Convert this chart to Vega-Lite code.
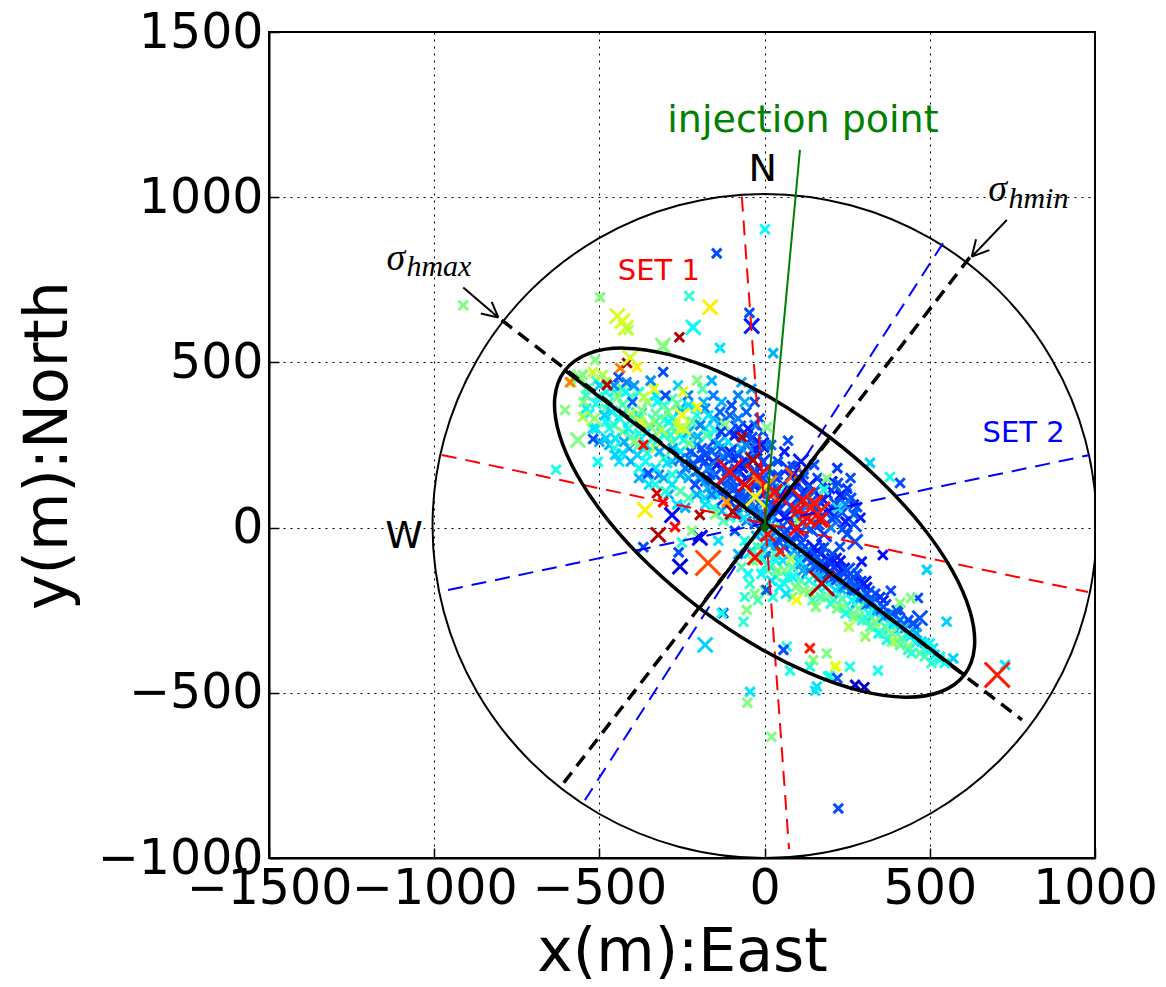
{
"$schema":"https://vega.github.io/schema/vega-lite/v6.json",
"width":826,"height":826,
"autosize":{"type":"none"},
"padding":{"left":269,"top":32,"right":71,"bottom":129},
"background":"white",
"config":{
 "view":{"stroke":"black","strokeWidth":2},
 "axis":{"labelFont":"DejaVu Sans","labelFontSize":49,"labelColor":"black","titleFont":"DejaVu Sans","titleFontSize":60,"titleFontWeight":"normal","titleColor":"black","domainColor":"black","domainWidth":2,"tickColor":"black","tickWidth":1.5,"tickSize":-10,"gridColor":"black","gridDash":[2,5],"gridWidth":1,"gridOpacity":1,"labelFlush":false,"labelOverlap":false,"labelPadding":16,"titlePadding":10,"format":"d"},
 "axisY":{"titleX":-203,"titleBaseline":"alphabetic"}
},
"datasets":{
 "pts":[
{"x":-470,"y":250,"c":0.3,"s":1},{"x":-440,"y":200,"c":0.35,"s":1},{"x":-410,"y":240,"c":0.28,"s":1},{"x":-380,"y":150,"c":0.3,"s":1},{"x":-350,"y":130,"c":0.35,"s":1},{"x":-320,"y":160,"c":0.25,"s":1},{"x":-290,"y":100,"c":0.3,"s":1},{"x":-265,"y":70,"c":0.35,"s":1},{"x":-520,"y":300,"c":0.35,"s":1},{"x":-500,"y":260,"c":0.3,"s":1},
{"x":-540,"y":400,"c":0.42,"s":1},{"x":-540,"y":360,"c":0.36,"s":1},{"x":-510,"y":445,"c":0.45,"s":1},{"x":-510,"y":375,"c":0.4,"s":1},{"x":-510,"y":300,"c":0.35,"s":1},
{"x":-480,"y":440,"c":0.5,"s":1},{"x":-480,"y":360,"c":0.45,"s":1},{"x":-480,"y":320,"c":0.38,"s":1},{"x":-480,"y":270,"c":0.33,"s":1},
{"x":-455,"y":410,"c":0.36,"s":1},{"x":-455,"y":310,"c":0.45,"s":1},{"x":-455,"y":240,"c":0.4,"s":1},
{"x":-430,"y":420,"c":0.5,"s":1},{"x":-430,"y":345,"c":0.33,"s":2},{"x":-430,"y":290,"c":0.5,"s":1},{"x":-430,"y":225,"c":0.35,"s":1},
{"x":-405,"y":395,"c":0.45,"s":1},{"x":-405,"y":325,"c":0.4,"s":2},{"x":-405,"y":275,"c":0.45,"s":1},{"x":-405,"y":200,"c":0.3,"s":1},
{"x":-380,"y":410,"c":0.4,"s":1},{"x":-380,"y":340,"c":0.35,"s":2},{"x":-380,"y":250,"c":0.45,"s":1},{"x":-380,"y":180,"c":0.38,"s":1},
{"x":-355,"y":380,"c":0.5,"s":1},{"x":-355,"y":290,"c":0.33,"s":2},{"x":-355,"y":225,"c":0.4,"s":1},{"x":-355,"y":160,"c":0.3,"s":1},
{"x":-330,"y":400,"c":0.35,"s":1},{"x":-330,"y":320,"c":0.42,"s":2},{"x":-330,"y":240,"c":0.55,"s":1},{"x":-330,"y":180,"c":0.35,"s":1},{"x":-330,"y":130,"c":0.4,"s":1},
{"x":-305,"y":370,"c":0.4,"s":1},{"x":-305,"y":280,"c":0.38,"s":2},{"x":-305,"y":210,"c":0.45,"s":1},{"x":-305,"y":150,"c":0.3,"s":1},
{"x":-280,"y":390,"c":0.45,"s":1},{"x":-280,"y":330,"c":0.35,"s":2},{"x":-280,"y":260,"c":0.5,"s":1},{"x":-280,"y":200,"c":0.3,"s":1},{"x":-280,"y":130,"c":0.35,"s":1},
{"x":-255,"y":360,"c":0.3,"s":1},{"x":-255,"y":280,"c":0.4,"s":2},{"x":-255,"y":230,"c":0.35,"s":1},{"x":-255,"y":160,"c":0.3,"s":1},{"x":-255,"y":110,"c":0.45,"s":1},
{"x":-230,"y":370,"c":0.35,"s":1},{"x":-230,"y":290,"c":0.3,"s":2},{"x":-230,"y":210,"c":0.25,"s":1},{"x":-230,"y":150,"c":0.3,"s":1},
{"x":-205,"y":340,"c":0.4,"s":1},{"x":-205,"y":250,"c":0.3,"s":2},{"x":-205,"y":170,"c":0.22,"s":1},{"x":-205,"y":100,"c":0.3,"s":1},
{"x":-180,"y":360,"c":0.25,"s":1},{"x":-180,"y":300,"c":0.35,"s":2},{"x":-180,"y":220,"c":0.2,"s":2},{"x":-180,"y":140,"c":0.22,"s":1},{"x":-180,"y":90,"c":0.35,"s":1},
{"x":-155,"y":330,"c":0.3,"s":1},{"x":-155,"y":260,"c":0.2,"s":2},{"x":-155,"y":200,"c":0.18,"s":2},{"x":-155,"y":120,"c":0.2,"s":1},{"x":-155,"y":60,"c":0.4,"s":1},
{"x":-130,"y":380,"c":0.3,"s":1},{"x":-130,"y":320,"c":0.25,"s":1},{"x":-130,"y":240,"c":0.2,"s":2},{"x":-130,"y":180,"c":0.15,"s":2},{"x":-130,"y":110,"c":0.22,"s":2},{"x":-130,"y":50,"c":0.3,"s":1},
{"x":-105,"y":340,"c":0.22,"s":1},{"x":-105,"y":290,"c":0.2,"s":2},{"x":-105,"y":230,"c":0.15,"s":2},{"x":-105,"y":150,"c":0.2,"s":2},{"x":-105,"y":80,"c":0.25,"s":2},{"x":-105,"y":30,"c":0.4,"s":1},
{"x":-80,"y":400,"c":0.25,"s":1},{"x":-80,"y":300,"c":0.2,"s":2},{"x":-80,"y":220,"c":0.18,"s":2},{"x":-80,"y":170,"c":0.2,"s":2},{"x":-80,"y":100,"c":0.15,"s":2},{"x":-80,"y":40,"c":0.3,"s":1},
{"x":-55,"y":350,"c":0.22,"s":1},{"x":-55,"y":280,"c":0.18,"s":2},{"x":-55,"y":200,"c":0.2,"s":2},{"x":-55,"y":150,"c":0.15,"s":2},{"x":-55,"y":90,"c":0.2,"s":2},{"x":-55,"y":20,"c":0.25,"s":1},
{"x":-30,"y":380,"c":0.2,"s":1},{"x":-30,"y":310,"c":0.25,"s":1},{"x":-30,"y":240,"c":0.15,"s":2},{"x":-30,"y":130,"c":0.2,"s":2},{"x":-30,"y":60,"c":0.22,"s":2},
{"x":-5,"y":290,"c":0.2,"s":1},{"x":-5,"y":200,"c":0.18,"s":2},{"x":-5,"y":150,"c":0.2,"s":2},{"x":-5,"y":100,"c":0.15,"s":2},{"x":-5,"y":40,"c":0.2,"s":2},
{"x":10,"y":-40,"c":0.3,"s":2},{"x":10,"y":-80,"c":0.25,"s":2},{"x":10,"y":-130,"c":0.45,"s":1},{"x":35,"y":-55,"c":0.2,"s":2},{"x":35,"y":-100,"c":0.4,"s":1},{"x":35,"y":-150,"c":0.45,"s":1},
{"x":60,"y":-60,"c":0.22,"s":2},{"x":60,"y":-130,"c":0.5,"s":1},{"x":60,"y":-170,"c":0.4,"s":1},{"x":85,"y":-45,"c":0.2,"s":2},{"x":85,"y":-150,"c":0.38,"s":1},{"x":85,"y":-210,"c":0.5,"s":1},
{"x":110,"y":-70,"c":0.2,"s":2},{"x":110,"y":-160,"c":0.45,"s":1},{"x":110,"y":-110,"c":0.25,"s":2},{"x":135,"y":-85,"c":0.18,"s":2},{"x":135,"y":-130,"c":0.25,"s":2},{"x":135,"y":-195,"c":0.5,"s":1},
{"x":160,"y":-115,"c":0.2,"s":2},{"x":160,"y":-180,"c":0.42,"s":1},{"x":160,"y":-70,"c":0.15,"s":2},{"x":185,"y":-120,"c":0.2,"s":2},{"x":185,"y":-160,"c":0.3,"s":2},{"x":185,"y":-210,"c":0.5,"s":1},
{"x":210,"y":-150,"c":0.22,"s":2},{"x":210,"y":-100,"c":0.15,"s":2},{"x":210,"y":-220,"c":0.45,"s":1},{"x":235,"y":-130,"c":0.15,"s":2},{"x":235,"y":-190,"c":0.3,"s":2},{"x":235,"y":-240,"c":0.5,"s":1},
{"x":260,"y":-190,"c":0.22,"s":2},{"x":260,"y":-140,"c":0.2,"s":2},{"x":260,"y":-250,"c":0.45,"s":1},{"x":285,"y":-170,"c":0.18,"s":2},{"x":285,"y":-220,"c":0.3,"s":2},{"x":285,"y":-270,"c":0.5,"s":1},
{"x":310,"y":-230,"c":0.25,"s":2},{"x":310,"y":-180,"c":0.15,"s":1},{"x":310,"y":-280,"c":0.45,"s":1},{"x":335,"y":-200,"c":0.2,"s":1},{"x":335,"y":-260,"c":0.35,"s":2},{"x":335,"y":-300,"c":0.5,"s":1},
{"x":360,"y":-220,"c":0.15,"s":1},{"x":360,"y":-270,"c":0.3,"s":2},{"x":360,"y":-320,"c":0.48,"s":1},{"x":385,"y":-260,"c":0.2,"s":1},{"x":385,"y":-300,"c":0.4,"s":2},{"x":385,"y":-345,"c":0.5,"s":1},
{"x":410,"y":-300,"c":0.3,"s":2},{"x":410,"y":-250,"c":0.2,"s":1},{"x":410,"y":-355,"c":0.45,"s":1},{"x":435,"y":-320,"c":0.35,"s":2},{"x":435,"y":-280,"c":0.2,"s":1},{"x":435,"y":-370,"c":0.42,"s":1},
{"x":460,"y":-345,"c":0.38,"s":1},{"x":460,"y":-300,"c":0.22,"s":1},{"x":485,"y":-350,"c":0.33,"s":1},{"x":485,"y":-390,"c":0.45,"s":1},{"x":510,"y":-365,"c":0.35,"s":1},
{"x":-60,"y":-40,"c":0.4,"s":1},{"x":-40,"y":-70,"c":0.35,"s":2},{"x":-70,"y":-120,"c":0.45,"s":1},{"x":-50,"y":-140,"c":0.38,"s":1},{"x":-15,"y":-90,"c":0.42,"s":2},{"x":-80,"y":-80,"c":0.3,"s":1},{"x":-30,"y":-200,"c":0.5,"s":1},{"x":-60,"y":-210,"c":0.42,"s":1},
{"x":-585,"y":440,"c":0.55,"s":1},{"x":-560,"y":455,"c":0.5,"s":2},{"x":-540,"y":420,"c":0.45,"s":1},{"x":-520,"y":470,"c":0.58,"s":1},{"x":-505,"y":395,"c":0.4,"s":1},{"x":-548,"y":380,"c":0.5,"s":1},{"x":-530,"y":345,"c":0.38,"s":1},{"x":-500,"y":430,"c":0.33,"s":1},{"x":-490,"y":462,"c":0.55,"s":1},{"x":-515,"y":330,"c":0.52,"s":2},
{"x":-480,"y":410,"c":0.4,"s":1},{"x":-470,"y":380,"c":0.42,"s":1},{"x":-462,"y":350,"c":0.35,"s":1},{"x":-455,"y":430,"c":0.27,"s":1},{"x":-445,"y":395,"c":0.5,"s":1},{"x":-438,"y":330,"c":0.4,"s":2},{"x":-430,"y":372,"c":0.45,"s":1},{"x":-420,"y":410,"c":0.38,"s":1},{"x":-412,"y":300,"c":0.36,"s":1},{"x":-405,"y":345,"c":0.55,"s":1},
{"x":-470,"y":300,"c":0.4,"s":1},{"x":-452,"y":270,"c":0.35,"s":1},{"x":-425,"y":260,"c":0.3,"s":1},{"x":-400,"y":380,"c":0.22,"s":1},{"x":-395,"y":430,"c":0.28,"s":1},{"x":-485,"y":340,"c":0.33,"s":1},{"x":-442,"y":455,"c":0.2,"s":1},{"x":-418,"y":440,"c":0.25,"s":1},
{"x":-390,"y":320,"c":0.45,"s":2},{"x":-380,"y":285,"c":0.4,"s":1},{"x":-372,"y":355,"c":0.5,"s":1},{"x":-365,"y":395,"c":0.55,"s":1},{"x":-358,"y":250,"c":0.35,"s":1},{"x":-350,"y":310,"c":0.52,"s":2},{"x":-342,"y":270,"c":0.42,"s":1},{"x":-335,"y":420,"c":0.6,"s":1},{"x":-330,"y":345,"c":0.47,"s":1},{"x":-325,"y":380,"c":0.38,"s":1},
{"x":-318,"y":230,"c":0.3,"s":1},{"x":-312,"y":295,"c":0.55,"s":2},{"x":-305,"y":325,"c":0.45,"s":1},{"x":-300,"y":400,"c":0.2,"s":1},{"x":-385,"y":220,"c":0.33,"s":1},{"x":-360,"y":200,"c":0.38,"s":1},{"x":-345,"y":445,"c":0.27,"s":1},{"x":-395,"y":260,"c":0.5,"s":1},{"x":-375,"y":320,"c":0.58,"s":1},{"x":-322,"y":265,"c":0.4,"s":1},
{"x":-292,"y":350,"c":0.5,"s":2},{"x":-285,"y":280,"c":0.42,"s":1},{"x":-278,"y":240,"c":0.3,"s":1},{"x":-270,"y":310,"c":0.55,"s":1},{"x":-265,"y":375,"c":0.47,"s":1},{"x":-258,"y":205,"c":0.25,"s":1},{"x":-250,"y":340,"c":0.6,"s":2},{"x":-245,"y":265,"c":0.38,"s":1},{"x":-238,"y":295,"c":0.5,"s":1},{"x":-232,"y":400,"c":0.25,"s":1},
{"x":-225,"y":230,"c":0.22,"s":1},{"x":-220,"y":320,"c":0.45,"s":1},{"x":-214,"y":190,"c":0.2,"s":1},{"x":-208,"y":360,"c":0.4,"s":1},{"x":-202,"y":275,"c":0.3,"s":1},{"x":-295,"y":195,"c":0.35,"s":1},{"x":-280,"y":160,"c":0.4,"s":1},{"x":-262,"y":430,"c":0.33,"s":1},{"x":-240,"y":180,"c":0.25,"s":1},{"x":-228,"y":255,"c":0.48,"s":1},{"x":-255,"y":300,"c":0.58,"s":1},{"x":-290,"y":320,"c":0.38,"s":1},
{"x":-195,"y":310,"c":0.25,"s":1},{"x":-190,"y":240,"c":0.2,"s":1},{"x":-185,"y":380,"c":0.3,"s":1},{"x":-180,"y":200,"c":0.18,"s":1},{"x":-175,"y":280,"c":0.45,"s":1},{"x":-170,"y":340,"c":0.35,"s":1},{"x":-165,"y":160,"c":0.2,"s":1},{"x":-160,"y":230,"c":0.22,"s":1},{"x":-155,"y":400,"c":0.25,"s":1},{"x":-150,"y":295,"c":0.4,"s":1},
{"x":-145,"y":190,"c":0.15,"s":1},{"x":-140,"y":255,"c":0.3,"s":1},{"x":-135,"y":350,"c":0.22,"s":1},{"x":-130,"y":140,"c":0.2,"s":1},{"x":-125,"y":215,"c":0.25,"s":1},{"x":-120,"y":310,"c":0.5,"s":1},{"x":-115,"y":170,"c":0.2,"s":1},{"x":-110,"y":260,"c":0.35,"s":1},{"x":-105,"y":120,"c":0.22,"s":1},{"x":-100,"y":370,"c":0.2,"s":1},
{"x":-198,"y":150,"c":0.28,"s":1},{"x":-172,"y":120,"c":0.3,"s":1},{"x":-148,"y":100,"c":0.35,"s":1},{"x":-188,"y":420,"c":0.45,"s":1},{"x":-160,"y":445,"c":0.3,"s":1},{"x":-132,"y":290,"c":0.18,"s":1},
{"x":-95,"y":210,"c":0.2,"s":1},{"x":-90,"y":280,"c":0.15,"s":1},{"x":-85,"y":150,"c":0.22,"s":1},{"x":-80,"y":330,"c":0.25,"s":1},{"x":-75,"y":95,"c":0.2,"s":1},{"x":-70,"y":240,"c":0.3,"s":1},{"x":-65,"y":180,"c":0.18,"s":1},{"x":-60,"y":380,"c":0.3,"s":1},{"x":-55,"y":120,"c":0.22,"s":1},{"x":-50,"y":300,"c":0.15,"s":1},
{"x":-45,"y":60,"c":0.25,"s":1},{"x":-40,"y":210,"c":0.2,"s":1},{"x":-35,"y":150,"c":0.45,"s":1},{"x":-30,"y":90,"c":0.2,"s":1},{"x":-25,"y":260,"c":0.22,"s":1},{"x":-20,"y":40,"c":0.25,"s":1},{"x":-15,"y":180,"c":0.15,"s":1},{"x":-10,"y":120,"c":0.2,"s":1},{"x":-5,"y":70,"c":0.3,"s":1},{"x":-88,"y":60,"c":0.2,"s":1},
{"x":-62,"y":30,"c":0.35,"s":1},{"x":-40,"y":420,"c":0.28,"s":1},{"x":-70,"y":440,"c":0.3,"s":1},{"x":-15,"y":330,"c":0.2,"s":1},{"x":5,"y":250,"c":0.25,"s":1},
{"x":-150,"y":160,"c":0.2,"s":2},{"x":-120,"y":90,"c":0.18,"s":2},{"x":-90,"y":120,"c":0.2,"s":2},{"x":-60,"y":70,"c":0.22,"s":2},{"x":-30,"y":170,"c":0.2,"s":2},{"x":-110,"y":220,"c":0.2,"s":2},{"x":-75,"y":190,"c":0.15,"s":2},{"x":-45,"y":110,"c":0.2,"s":2},{"x":-170,"y":180,"c":0.25,"s":2},{"x":-20,"y":220,"c":0.2,"s":2},{"x":-55,"y":250,"c":0.25,"s":2},{"x":-200,"y":210,"c":0.2,"s":2},
{"x":-352,"y":165,"c":0.2,"s":1},{"x":-326,"y":104,"c":0.92,"s":1},{"x":-307,"y":77,"c":0.87,"s":1},{"x":-322,"y":-22,"c":0.95,"s":2},{"x":-280,"y":38,"c":0.12,"s":2},{"x":-271,"y":2,"c":0.87,"s":1},{"x":-362,"y":53,"c":0.64,"s":2},{"x":-196,"y":38,"c":0.95,"s":1},{"x":-196,"y":-31,"c":0.12,"s":2},{"x":-367,"y":-59,"c":0.2,"s":1},
{"x":-250,"y":-45,"c":0.4,"s":1},{"x":-201,"y":-28,"c":0.12,"s":1},{"x":-256,"y":-118,"c":0.08,"s":2},{"x":-631,"y":175,"c":0.4,"s":1},{"x":-505,"y":199,"c":0.38,"s":1},{"x":-452,"y":220,"c":0.33,"s":1},{"x":-367,"y":250,"c":0.87,"s":1},{"x":-565,"y":265,"c":0.5,"s":2},{"x":-519,"y":268,"c":0.2,"s":1},{"x":-604,"y":356,"c":0.5,"s":1},
{"x":-550,"y":335,"c":0.55,"s":1},{"x":-247,"y":303,"c":0.58,"s":2},{"x":-69,"y":274,"c":0.95,"s":1},{"x":-37,"y":274,"c":0.2,"s":1},{"x":71,"y":263,"c":0.2,"s":1},{"x":7,"y":304,"c":0.5,"s":1},{"x":-230,"y":90,"c":0.45,"s":1},{"x":-180,"y":70,"c":0.35,"s":1},{"x":-150,"y":40,"c":0.5,"s":1},{"x":-240,"y":60,"c":0.3,"s":1},
{"x":-300,"y":110,"c":0.4,"s":1},{"x":-210,"y":130,"c":0.2,"s":1},{"x":-160,"y":100,"c":0.25,"s":1},{"x":-125,"y":20,"c":0.45,"s":1},{"x":-90,"y":-10,"c":0.2,"s":1},{"x":-140,"y":-40,"c":0.35,"s":1},{"x":-220,"y":-10,"c":0.5,"s":1},{"x":-260,"y":-75,"c":0.2,"s":1},
{"x":5,"y":-20,"c":0.35,"s":1},{"x":15,"y":-50,"c":0.3,"s":2},{"x":30,"y":-80,"c":0.45,"s":1},{"x":10,"y":-110,"c":0.4,"s":2},{"x":40,"y":-130,"c":0.5,"s":1},{"x":20,"y":-160,"c":0.35,"s":1},{"x":-20,"y":-60,"c":0.45,"s":1},{"x":-35,"y":-100,"c":0.5,"s":1},{"x":-10,"y":-140,"c":0.38,"s":1},{"x":-45,"y":-170,"c":0.42,"s":1},
{"x":50,"y":-30,"c":0.2,"s":2},{"x":35,"y":-10,"c":0.25,"s":1},{"x":-25,"y":-25,"c":0.3,"s":1},{"x":0,"y":-190,"c":0.5,"s":1},{"x":-20,"y":-220,"c":0.45,"s":1},{"x":25,"y":-210,"c":0.4,"s":1},{"x":45,"y":-180,"c":0.38,"s":1},
{"x":60,"y":-15,"c":0.2,"s":2},{"x":75,"y":-40,"c":0.22,"s":2},{"x":90,"y":-70,"c":0.3,"s":2},{"x":55,"y":-100,"c":0.35,"s":1},{"x":85,"y":-120,"c":0.45,"s":1},{"x":70,"y":-150,"c":0.4,"s":1},{"x":100,"y":-20,"c":0.18,"s":2},{"x":95,"y":-180,"c":0.5,"s":1},{"x":65,"y":-200,"c":0.35,"s":1},{"x":80,"y":-95,"c":0.55,"s":1},
{"x":110,"y":-45,"c":0.2,"s":2},{"x":125,"y":-75,"c":0.25,"s":2},{"x":140,"y":-105,"c":0.22,"s":2},{"x":115,"y":-130,"c":0.3,"s":1},{"x":135,"y":-160,"c":0.4,"s":1},{"x":120,"y":-190,"c":0.5,"s":1},{"x":150,"y":-60,"c":0.15,"s":2},{"x":145,"y":-220,"c":0.45,"s":1},{"x":105,"y":-100,"c":0.35,"s":1},
{"x":160,"y":-90,"c":0.2,"s":2},{"x":175,"y":-115,"c":0.22,"s":2},{"x":190,"y":-140,"c":0.2,"s":2},{"x":165,"y":-150,"c":0.3,"s":1},{"x":185,"y":-180,"c":0.38,"s":1},{"x":170,"y":-210,"c":0.45,"s":1},{"x":195,"y":-100,"c":0.15,"s":2},{"x":155,"y":-240,"c":0.5,"s":1},{"x":200,"y":-230,"c":0.42,"s":1},{"x":180,"y":-60,"c":0.2,"s":1},
{"x":210,"y":-120,"c":0.18,"s":2},{"x":225,"y":-150,"c":0.2,"s":2},{"x":240,"y":-175,"c":0.25,"s":2},{"x":215,"y":-190,"c":0.35,"s":1},{"x":235,"y":-215,"c":0.45,"s":1},{"x":220,"y":-245,"c":0.5,"s":1},{"x":250,"y":-130,"c":0.2,"s":2},{"x":245,"y":-260,"c":0.4,"s":1},{"x":205,"y":-80,"c":0.2,"s":1},{"x":230,"y":-100,"c":0.15,"s":1},
{"x":260,"y":-160,"c":0.2,"s":2},{"x":275,"y":-185,"c":0.22,"s":2},{"x":290,"y":-210,"c":0.3,"s":2},{"x":265,"y":-220,"c":0.38,"s":1},{"x":285,"y":-245,"c":0.48,"s":1},{"x":270,"y":-270,"c":0.5,"s":1},{"x":300,"y":-170,"c":0.15,"s":2},{"x":295,"y":-280,"c":0.42,"s":1},{"x":280,"y":-140,"c":0.2,"s":1},{"x":255,"y":-300,"c":0.55,"s":1},
{"x":310,"y":-200,"c":0.2,"s":2},{"x":325,"y":-225,"c":0.22,"s":2},{"x":340,"y":-250,"c":0.3,"s":1},{"x":315,"y":-260,"c":0.4,"s":1},{"x":335,"y":-285,"c":0.5,"s":1},{"x":320,"y":-300,"c":0.45,"s":1},{"x":350,"y":-210,"c":0.18,"s":1},{"x":345,"y":-320,"c":0.38,"s":1},{"x":305,"y":-330,"c":0.52,"s":1},
{"x":360,"y":-240,"c":0.2,"s":2},{"x":375,"y":-265,"c":0.25,"s":1},{"x":390,"y":-290,"c":0.35,"s":1},{"x":365,"y":-300,"c":0.45,"s":1},{"x":385,"y":-320,"c":0.5,"s":1},{"x":400,"y":-250,"c":0.2,"s":1},{"x":370,"y":-340,"c":0.4,"s":1},{"x":395,"y":-345,"c":0.55,"s":1},
{"x":410,"y":-280,"c":0.22,"s":1},{"x":425,"y":-305,"c":0.3,"s":1},{"x":440,"y":-330,"c":0.38,"s":1},{"x":415,"y":-335,"c":0.45,"s":1},{"x":435,"y":-360,"c":0.5,"s":1},{"x":450,"y":-290,"c":0.2,"s":1},{"x":445,"y":-380,"c":0.42,"s":1},
{"x":460,"y":-320,"c":0.3,"s":1},{"x":475,"y":-345,"c":0.35,"s":1},{"x":490,"y":-370,"c":0.4,"s":1},{"x":470,"y":-380,"c":0.45,"s":1},{"x":500,"y":-350,"c":0.38,"s":1},{"x":515,"y":-385,"c":0.35,"s":1},{"x":530,"y":-400,"c":0.4,"s":1},{"x":545,"y":-410,"c":0.38,"s":1},{"x":505,"y":-410,"c":0.42,"s":1},
{"x":270,"y":10,"c":0.2,"s":2},{"x":290,"y":30,"c":0.15,"s":1},{"x":260,"y":150,"c":0.2,"s":1},{"x":220,"y":180,"c":0.18,"s":1},{"x":150,"y":190,"c":0.2,"s":1},{"x":110,"y":200,"c":0.15,"s":2},{"x":70,"y":180,"c":0.18,"s":2},{"x":10,"y":180,"c":0.2,"s":2},{"x":-10,"y":250,"c":0.15,"s":2},
{"x":35,"y":150,"c":0.18,"s":2},{"x":110,"y":145,"c":0.2,"s":2},{"x":190,"y":125,"c":0.15,"s":2},{"x":240,"y":95,"c":0.2,"s":2},{"x":270,"y":70,"c":0.15,"s":1},{"x":210,"y":35,"c":0.2,"s":2},{"x":250,"y":-20,"c":0.2,"s":1},{"x":180,"y":-20,"c":0.18,"s":2},{"x":140,"y":-5,"c":0.2,"s":2},
{"x":40,"y":160,"c":0.2,"s":1},{"x":78,"y":155,"c":0.15,"s":1},{"x":118,"y":162,"c":0.22,"s":1},{"x":160,"y":150,"c":0.2,"s":1},{"x":205,"y":140,"c":0.12,"s":1},
{"x":25,"y":135,"c":0.22,"s":2},{"x":55,"y":130,"c":0.18,"s":2},{"x":95,"y":138,"c":0.2,"s":2},{"x":135,"y":128,"c":0.15,"s":2},{"x":175,"y":133,"c":0.2,"s":1},{"x":215,"y":125,"c":0.22,"s":1},{"x":250,"y":118,"c":0.18,"s":1},
{"x":20,"y":110,"c":0.25,"s":2},{"x":48,"y":105,"c":0.2,"s":2},{"x":85,"y":112,"c":0.15,"s":2},{"x":120,"y":100,"c":0.2,"s":2},{"x":150,"y":108,"c":0.22,"s":2},{"x":190,"y":102,"c":0.18,"s":1},{"x":228,"y":98,"c":0.15,"s":1},{"x":262,"y":90,"c":0.2,"s":1},
{"x":30,"y":85,"c":0.2,"s":2},{"x":65,"y":80,"c":0.22,"s":2},{"x":100,"y":88,"c":0.18,"s":2},{"x":140,"y":78,"c":0.2,"s":2},{"x":178,"y":84,"c":0.15,"s":2},{"x":212,"y":75,"c":0.2,"s":1},{"x":245,"y":70,"c":0.25,"s":1},{"x":280,"y":62,"c":0.2,"s":1},
{"x":15,"y":60,"c":0.22,"s":2},{"x":45,"y":55,"c":0.18,"s":2},{"x":80,"y":62,"c":0.2,"s":2},{"x":115,"y":52,"c":0.25,"s":2},{"x":155,"y":58,"c":0.2,"s":2},{"x":195,"y":50,"c":0.15,"s":2},{"x":235,"y":45,"c":0.2,"s":1},{"x":270,"y":40,"c":0.22,"s":1},
{"x":25,"y":35,"c":0.2,"s":2},{"x":60,"y":30,"c":0.15,"s":2},{"x":95,"y":38,"c":0.22,"s":2},{"x":130,"y":28,"c":0.2,"s":2},{"x":170,"y":32,"c":0.18,"s":2},{"x":205,"y":25,"c":0.2,"s":1},{"x":245,"y":18,"c":0.15,"s":1},
{"x":20,"y":10,"c":0.25,"s":1},{"x":55,"y":5,"c":0.2,"s":2},{"x":90,"y":12,"c":0.18,"s":2},{"x":125,"y":3,"c":0.22,"s":2},{"x":165,"y":8,"c":0.2,"s":1},{"x":200,"y":0,"c":0.25,"s":1},{"x":235,"y":-5,"c":0.2,"s":1},
{"x":60,"y":120,"c":0.45,"s":1},{"x":180,"y":115,"c":0.4,"s":1},{"x":100,"y":20,"c":0.5,"s":1},{"x":220,"y":60,"c":0.35,"s":1},{"x":40,"y":200,"c":0.2,"s":1},{"x":60,"y":230,"c":0.15,"s":1},{"x":20,"y":250,"c":0.22,"s":1},{"x":85,"y":185,"c":0.2,"s":1},
{"x":-30,"y":10,"c":0.2,"s":1},{"x":30,"y":0,"c":0.45,"s":1},{"x":-10,"y":30,"c":0.25,"s":1},{"x":15,"y":40,"c":0.3,"s":1},
{"x":379,"y":153,"c":0.4,"s":1},{"x":410,"y":135,"c":0.2,"s":1},{"x":319,"y":196,"c":0.33,"s":1},{"x":188,"y":149,"c":0.5,"s":1},{"x":222,"y":135,"c":0.2,"s":1},{"x":228,"y":-58,"c":0.2,"s":1},{"x":274,"y":-43,"c":0.2,"s":2},{"x":294,"y":-103,"c":0.15,"s":1},{"x":358,"y":-83,"c":0.12,"s":1},{"x":491,"y":-128,"c":0.33,"s":1},
{"x":464,"y":-213,"c":0.2,"s":1},{"x":382,"y":-191,"c":0.2,"s":1},{"x":443,"y":-213,"c":0.5,"s":1},{"x":410,"y":-228,"c":0.5,"s":1},{"x":470,"y":-274,"c":0.2,"s":2},{"x":551,"y":-285,"c":0.33,"s":1},{"x":343,"y":-433,"c":0.4,"s":1},{"x":274,"y":-476,"c":0.08,"s":1},{"x":302,"y":-483,"c":0.08,"s":1},{"x":531,"y":-391,"c":0.4,"s":1},
{"x":571,"y":-396,"c":0.33,"s":1},{"x":188,"y":-381,"c":0.5,"s":1},{"x":213,"y":-421,"c":0.6,"s":1},{"x":137,"y":-421,"c":0.4,"s":1},{"x":192,"y":-451,"c":0.4,"s":1},{"x":137,"y":-365,"c":0.85,"s":1},{"x":158,"y":-481,"c":0.35,"s":1},{"x":67,"y":-360,"c":0.4,"s":1},{"x":-44,"y":-497,"c":0.35,"s":1},{"x":6,"y":-189,"c":0.2,"s":1},
{"x":-54,"y":-249,"c":0.5,"s":1},{"x":-64,"y":-285,"c":0.42,"s":1},{"x":-125,"y":-259,"c":0.2,"s":1},{"x":-180,"y":-355,"c":0.33,"s":2},{"x":97,"y":-219,"c":0.62,"s":1},{"x":-130,"y":-259,"c":0.4,"s":1},{"x":-52,"y":-530,"c":0.5,"s":1},{"x":21,"y":-633,"c":0.5,"s":1},{"x":223,"y":-850,"c":0.2,"s":1},{"x":147,"y":-401,"c":0.5,"s":1},
{"x":216,"y":-419,"c":0.6,"s":1},{"x":198,"y":-449,"c":0.4,"s":1},{"x":153,"y":-494,"c":0.35,"s":1},{"x":220,"y":-456,"c":0.2,"s":1},{"x":258,"y":-421,"c":0.4,"s":1},{"x":57,"y":-370,"c":0.2,"s":1},{"x":728,"y":-416,"c":0.35,"s":1},{"x":77,"y":-433,"c":0.4,"s":1},
{"x":1,"y":903,"c":0.37,"s":1},{"x":-145,"y":830,"c":0.2,"s":1},{"x":-228,"y":701,"c":0.42,"s":1},{"x":-165,"y":667,"c":0.64,"s":2},{"x":-46,"y":650,"c":0.2,"s":1},{"x":-39,"y":610,"c":0.15,"s":2},{"x":-216,"y":606,"c":0.4,"s":2},{"x":-258,"y":576,"c":0.95,"s":1},{"x":-308,"y":551,"c":0.5,"s":2},{"x":-446,"y":640,"c":0.58,"s":2},
{"x":-430,"y":625,"c":0.6,"s":2},{"x":-420,"y":605,"c":0.58,"s":2},{"x":-412,"y":598,"c":0.56,"s":1},{"x":-498,"y":697,"c":0.5,"s":1},{"x":-912,"y":673,"c":0.5,"s":1},{"x":-135,"y":544,"c":0.35,"s":1},{"x":26,"y":528,"c":0.3,"s":1},
{"x":-437,"y":483,"c":0.75,"s":1},{"x":-386,"y":486,"c":0.64,"s":1},{"x":-416,"y":498,"c":0.95,"s":1},{"x":-407,"y":514,"c":0.58,"s":2},{"x":-513,"y":507,"c":0.5,"s":1},{"x":-550,"y":462,"c":0.5,"s":1},{"x":-589,"y":440,"c":0.75,"s":1},{"x":-477,"y":432,"c":0.95,"s":1},{"x":-307,"y":546,"c":0.5,"s":1},{"x":-217,"y":607,"c":0.37,"s":1},
{"x":-307,"y":471,"c":0.2,"s":1},{"x":-204,"y":446,"c":0.5,"s":1},{"x":-247,"y":411,"c":0.58,"s":1},{"x":-204,"y":365,"c":0.62,"s":1},
{"x":-105,"y":169,"c":0.87,"s":3},{"x":-35,"y":204,"c":0.95,"s":2},{"x":-20,"y":153,"c":0.87,"s":3},{"x":0,"y":120,"c":0.75,"s":3},{"x":31,"y":108,"c":0.87,"s":2},{"x":86,"y":159,"c":0.8,"s":2},{"x":-171,"y":-107,"c":0.8,"s":3},{"x":-29,"y":-90,"c":0.87,"s":2},{"x":97,"y":-2,"c":0.87,"s":2},{"x":-96,"y":48,"c":0.95,"s":2},
{"x":-29,"y":93,"c":0.62,"s":3},{"x":47,"y":93,"c":0.87,"s":2},{"x":-115,"y":78,"c":0.72,"s":1},{"x":173,"y":-169,"c":0.95,"s":3},{"x":704,"y":-446,"c":0.85,"s":3},{"x":116,"y":83,"c":0.87,"s":3},{"x":140,"y":60,"c":0.87,"s":3},{"x":160,"y":40,"c":0.85,"s":3},{"x":130,"y":30,"c":0.87,"s":2},{"x":150,"y":75,"c":0.85,"s":2},
{"x":168,"y":23,"c":0.87,"s":2},{"x":100,"y":50,"c":0.87,"s":2},{"x":47,"y":-73,"c":0.85,"s":1},{"x":10,"y":-20,"c":0.87,"s":2},{"x":-60,"y":130,"c":0.9,"s":2}
 ],
 "circle":[
{"i":0,"x":1005,"y":5},{"i":1,"x":970.7,"y":265.1},{"i":2,"x":870.3,"y":507.5},{"i":3,"x":710.6,"y":715.6},{"i":4,"x":502.5,"y":875.3},{"i":5,"x":260.1,"y":975.7},{"i":6,"x":0,"y":1010},{"i":7,"x":-260.1,"y":975.7},{"i":8,"x":-502.5,"y":875.3},{"i":9,"x":-710.6,"y":715.6},{"i":10,"x":-870.3,"y":507.5},{"i":11,"x":-970.7,"y":265.1},
{"i":12,"x":-1005,"y":5},{"i":13,"x":-970.7,"y":-255.1},{"i":14,"x":-870.3,"y":-497.5},{"i":15,"x":-710.6,"y":-705.6},{"i":16,"x":-502.5,"y":-865.3},{"i":17,"x":-260.1,"y":-965.7},{"i":18,"x":0,"y":-1000},{"i":19,"x":260.1,"y":-965.7},{"i":20,"x":502.5,"y":-865.3},{"i":21,"x":710.6,"y":-705.6},{"i":22,"x":870.3,"y":-497.5},{"i":23,"x":970.7,"y":-255.1}
 ],
 "ellipse":[
{"i":0,"x":604.6,"y":-445.6},{"i":1,"x":635.0,"y":-363.0},{"i":2,"x":622.1,"y":-254.6},{"i":3,"x":566.8,"y":-127.9},{"i":4,"x":472.9,"y":8.6},{"i":5,"x":346.8,"y":145.5},{"i":6,"x":197.0,"y":273.5},{"i":7,"x":33.8,"y":383.9},{"i":8,"x":-131.7,"y":469.2},{"i":9,"x":-288.2,"y":523.5},{"i":10,"x":-425.1,"y":543.2},{"i":11,"x":-533.0,"y":526.8},
{"i":12,"x":-604.6,"y":475.6},{"i":13,"x":-635.0,"y":393.0},{"i":14,"x":-622.1,"y":284.6},{"i":15,"x":-566.8,"y":157.9},{"i":16,"x":-472.9,"y":21.4},{"i":17,"x":-346.8,"y":-115.5},{"i":18,"x":-197.0,"y":-243.5},{"i":19,"x":-33.8,"y":-353.9},{"i":20,"x":131.7,"y":-439.2},{"i":21,"x":288.2,"y":-493.5},{"i":22,"x":425.1,"y":-513.2},{"i":23,"x":533.0,"y":-496.8}
 ]
},
"encoding":{
 "x":{"field":"x","type":"quantitative","scale":{"domain":[-1500,1000],"nice":false,"zero":false},"axis":{"values":[-1500,-1000,-500,0,500,1000],"title":"x(m):East","grid":true}},
 "y":{"field":"y","type":"quantitative","scale":{"domain":[-1000,1500],"nice":false,"zero":false},"axis":{"values":[-1000,-500,0,500,1000,1500],"title":"y(m):North","grid":true}}
},
"layer":[
 {"data":{"name":"circle"},"mark":{"type":"line","interpolate":"cardinal-closed","color":"black","strokeWidth":2,"clip":true},"encoding":{"order":{"field":"i","type":"quantitative"}}},
 {"data":{"name":"pts"},"mark":{"type":"point","shape":"M-1,-1L1,1M-1,1L1,-1","filled":false,"strokeWidth":3,"opacity":1},
  "encoding":{"color":{"field":"c","type":"quantitative","scale":{"domain":[0,0.125,0.25,0.375,0.5,0.625,0.75,0.875,1],"range":["#00007f","#0000ff","#007fff","#00ffff","#7fff7f","#ffff00","#ff7f00","#ff0000","#7f0000"],"interpolate":"rgb"},"legend":null},
   "size":{"field":"s","type":"quantitative","scale":{"domain":[1,2,3],"range":[90,220,620]},"legend":null}}},
 {"data":{"values":[{"x":-69,"y":1002,"x2":74,"y2":-973},{"x":-977,"y":220,"x2":979,"y2":-195}]},"mark":{"type":"rule","color":"#ff0000","strokeWidth":2,"strokeDash":[15,9]},"encoding":{"x2":{"field":"x2"},"y2":{"field":"y2"}}},
 {"data":{"values":[{"x":540,"y":861,"x2":-544,"y2":-825},{"x":-958,"y":-189,"x2":985,"y2":220}]},"mark":{"type":"rule","color":"#0000ff","strokeWidth":2,"strokeDash":[15,9]},"encoding":{"x2":{"field":"x2"},"y2":{"field":"y2"}}},
 {"data":{"values":[{"x":-796,"y":628,"x2":779,"y2":-582},{"x":621,"y":818,"x2":-613,"y2":-779}]},"mark":{"type":"rule","color":"black","strokeWidth":3.5,"strokeDash":[13,8]},"encoding":{"x2":{"field":"x2"},"y2":{"field":"y2"}}},
 {"data":{"name":"ellipse"},"mark":{"type":"line","interpolate":"cardinal-closed","color":"black","strokeWidth":3.5},"encoding":{"order":{"field":"i","type":"quantitative"}}},
 {"data":{"values":[{"x":-604.6,"y":475.6,"x2":604.6,"y2":-445.6},{"x":-197,"y":-243.5,"x2":197,"y2":273.5}]},"mark":{"type":"rule","color":"black","strokeWidth":3.5},"encoding":{"x2":{"field":"x2"},"y2":{"field":"y2"}}},
 {"data":{"values":[{"x":107,"y":1143,"x2":0,"y2":0}]},"mark":{"type":"rule","color":"#008000","strokeWidth":2},"encoding":{"x2":{"field":"x2"},"y2":{"field":"y2"}}},
 {"data":{"values":[{"x":0,"y":0}]},"mark":{"type":"point","shape":"circle","filled":true,"color":"#006400","size":70,"opacity":1}},
 {"data":{"values":[{"x":-912,"y":727,"x2":-806,"y2":636},{"x":-806,"y":636,"x2":-859,"y2":648},{"x":-806,"y":636,"x2":-826,"y2":683},{"x":733,"y":931,"x2":627,"y2":820},{"x":627,"y":820,"x2":640,"y2":873},{"x":627,"y":820,"x2":680,"y2":840}]},"mark":{"type":"rule","color":"black","strokeWidth":2},"encoding":{"x2":{"field":"x2"},"y2":{"field":"y2"}}},
 {"data":{"values":[{"x":116,"y":1198,"t":"injection point"}]},"mark":{"type":"text","font":"DejaVu Sans","fontSize":38,"color":"#008000","align":"center","baseline":"alphabetic"},"encoding":{"text":{"field":"t"}}},
 {"data":{"values":[{"x":-6,"y":1050,"t":"N"},{"x":-1091,"y":-62,"t":"W"}]},"mark":{"type":"text","font":"DejaVu Sans","fontSize":38,"color":"black","align":"center","baseline":"alphabetic"},"encoding":{"text":{"field":"t"}}},
 {"data":{"values":[{"x":-320,"y":749,"t":"SET 1"}]},"mark":{"type":"text","font":"DejaVu Sans","fontSize":29,"color":"#ff0000","align":"center","baseline":"alphabetic"},"encoding":{"text":{"field":"t"}}},
 {"data":{"values":[{"x":784,"y":259,"t":"SET 2"}]},"mark":{"type":"text","font":"DejaVu Sans","fontSize":29,"color":"#0000ff","align":"center","baseline":"alphabetic"},"encoding":{"text":{"field":"t"}}},
 {"data":{"values":[{"x":-1144,"y":780,"t":"σ"},{"x":677,"y":988,"t":"σ"}]},"mark":{"type":"text","font":"Liberation Serif","fontStyle":"italic","fontSize":38,"color":"black","align":"left","baseline":"alphabetic"},"encoding":{"text":{"field":"t"}}},
 {"data":{"values":[{"x":-1084,"y":761,"t":"hmax"},{"x":738,"y":966,"t":"hmin"}]},"mark":{"type":"text","font":"Liberation Serif","fontStyle":"italic","fontSize":30,"color":"black","align":"left","baseline":"alphabetic"},"encoding":{"text":{"field":"t"}}}
]
}
